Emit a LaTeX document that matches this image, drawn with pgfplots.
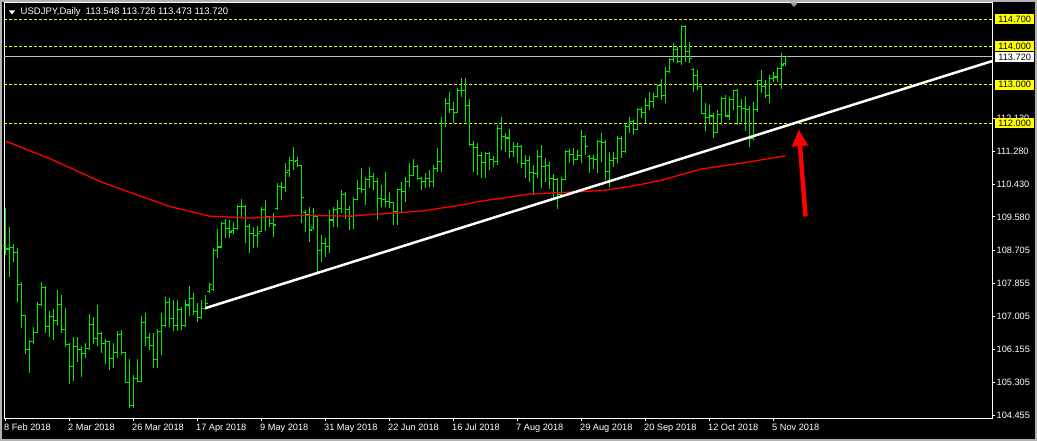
\documentclass[border=0pt]{standalone}
\usepackage{pgfplots}
\pgfplotsset{compat=1.18}
\usepackage{pgfplotstable}
\usepackage{fontspec}
\setmainfont{Liberation Sans}
\usetikzlibrary{arrows.meta}
\definecolor{barg}{RGB}{0,235,0}
\definecolor{mtyel}{RGB}{255,255,0}
\definecolor{bidgrey}{RGB}{192,192,192}
\pgfdeclareplotmark{rtick}{\pgfpathmoveto{\pgfpoint{0pt}{0pt}}\pgfpathlineto{\pgfpoint{2.5pt}{0pt}}\pgfusepathqstroke}
\pgfdeclareplotmark{ltick}{\pgfpathmoveto{\pgfpoint{-2.5pt}{0pt}}\pgfpathlineto{\pgfpoint{0pt}{0pt}}\pgfusepathqstroke}
\pgfdeclareplotmark{hl}{\pgfpathmoveto{\pgfpoint{0pt}{0pt}}\pgfpathlineto{\pgfpoint{0pt}{\rng pt}}\pgfusepathqstroke}
\pgfplotstableread{
k o h l c
0 108.85 109.81 108.59 108.75
1 108.75 109.33 108.03 108.79
2 108.79 108.88 108.42 108.65
3 108.65 108.77 107.39 107.82
4 107.82 107.90 106.71 107.02
5 107.02 107.04 106.03 106.14
6 106.14 106.40 105.55 106.35
7 106.35 106.74 106.29 106.58
8 106.58 107.37 106.57 107.32
9 107.32 107.90 107.28 107.76
10 107.76 107.78 106.58 106.74
11 106.74 107.15 106.48 107.00
12 107.00 107.20 106.40 106.91
13 106.91 107.69 106.76 107.32
14 107.32 107.56 106.57 106.67
15 106.67 107.23 106.22 106.27
16 106.27 106.31 105.25 105.72
17 105.72 106.48 105.33 106.22
18 106.22 106.47 105.83 106.14
19 106.14 106.24 105.45 106.05
20 106.05 106.31 105.92 106.18
21 106.18 107.07 106.14 106.80
22 106.80 106.98 106.29 106.44
23 106.44 107.30 106.24 106.57
24 106.57 106.59 106.05 106.31
25 106.31 106.41 105.77 106.35
26 106.35 106.36 105.62 105.92
27 105.92 106.31 105.68 106.08
28 106.08 106.64 105.94 106.54
29 106.54 106.65 106.01 106.07
30 106.07 106.09 105.27 105.29
31 105.29 105.90 104.63 104.71
32 104.71 105.49 104.63 105.40
33 105.40 105.90 105.32 105.33
34 105.33 107.02 105.32 106.84
35 106.84 107.09 106.25 106.46
36 106.46 106.57 106.14 106.25
37 106.25 106.58 105.66 105.88
38 105.88 106.67 105.66 106.61
39 106.61 107.10 106.01 106.78
40 106.78 107.52 106.74 107.37
41 107.37 107.47 106.74 106.96
42 106.96 107.43 106.64 106.76
43 106.76 107.43 106.63 107.19
44 107.19 107.26 106.65 106.78
45 106.78 107.43 106.74 107.30
46 107.30 107.79 107.02 107.47
47 107.47 107.60 107.05 107.13
48 107.13 107.35 106.87 106.98
49 106.98 107.43 106.93 107.22
50 107.22 107.56 107.17 107.35
51 107.65 107.87 107.60 107.82
52 107.69 108.77 107.66 108.71
53 108.72 109.27 108.52 108.80
54 108.80 109.46 108.78 109.41
55 109.41 109.53 109.03 109.29
56 109.29 109.50 109.03 109.19
57 109.22 109.45 109.15 109.27
58 109.27 109.89 109.24 109.86
59 109.86 110.04 109.55 109.84
60 109.84 109.89 108.90 109.32
61 109.32 109.40 108.65 109.14
62 109.14 109.32 108.78 109.09
63 109.09 109.34 108.80 109.14
64 109.20 109.83 109.19 109.78
65 109.78 110.02 109.22 109.58
66 109.58 109.60 109.33 109.42
67 109.42 109.67 109.07 109.37
68 109.80 110.45 109.76 110.36
69 110.36 110.49 110.02 110.35
70 110.35 110.97 110.23 110.73
71 110.79 111.14 110.62 111.05
72 111.05 111.40 110.79 111.02
73 111.03 111.14 110.88 110.90
74 110.90 110.92 109.41 110.09
75 109.70 109.76 109.20 109.63
76 109.63 109.84 108.94 109.24
77 109.30 109.80 109.24 109.59
78 109.59 109.63 108.12 108.72
79 108.72 109.11 108.42 108.90
80 108.90 109.03 108.55 108.81
81 108.81 109.76 108.64 109.50
82 109.50 109.84 109.33 109.76
83 109.76 110.02 109.33 109.80
84 109.80 110.28 109.67 110.15
85 110.15 110.23 109.52 109.76
86 109.76 109.86 109.24 109.60
87 109.60 110.10 109.26 110.04
88 110.04 110.54 110.02 110.32
89 110.32 110.84 110.19 110.30
90 110.30 110.62 109.89 110.54
91 110.54 110.88 110.32 110.62
92 110.62 110.72 110.28 110.49
93 110.49 110.58 109.50 110.06
94 110.06 110.41 109.83 110.04
95 110.04 110.75 109.84 109.97
96 109.97 110.23 109.80 109.95
97 109.95 109.97 109.37 109.71
98 109.71 110.30 109.37 110.28
99 110.28 110.49 109.67 110.23
100 110.23 110.62 109.97 110.49
101 110.49 110.97 110.36 110.66
102 110.66 111.07 110.64 110.88
103 110.88 110.92 110.53 110.58
104 110.58 110.62 110.28 110.49
105 110.49 110.71 110.32 110.58
106 110.58 110.79 110.36 110.49
107 110.49 110.92 110.36 110.84
108 110.84 111.35 110.75 111.01
109 111.01 112.17 110.75 112.00
110 112.00 112.65 111.91 112.52
111 112.52 112.82 112.26 112.36
112 112.36 112.56 112.00 112.27
113 112.27 112.91 112.26 112.86
114 112.86 113.17 112.69 112.85
115 112.85 113.17 112.04 112.47
116 112.47 112.62 111.41 111.45
117 111.45 111.54 110.75 111.38
118 111.38 111.50 110.66 111.18
119 111.18 111.27 110.58 110.98
120 110.98 111.27 110.58 111.22
121 111.22 111.27 110.79 111.07
122 111.07 111.16 110.88 111.01
123 111.01 111.96 110.92 111.87
124 111.87 112.17 111.31 111.66
125 111.66 111.74 111.27 111.62
126 111.62 111.85 111.10 111.27
127 111.27 111.53 111.12 111.41
128 111.41 111.48 110.98 111.40
129 111.40 111.44 110.84 110.97
130 110.97 111.18 110.58 111.05
131 111.05 111.16 110.49 110.72
132 110.72 110.92 110.15 110.71
133 110.71 111.31 110.58 111.14
134 111.14 111.44 110.32 110.88
135 110.88 111.10 110.49 110.90
136 110.90 111.01 110.29 110.58
137 110.58 110.69 110.02 110.54
138 110.54 110.58 109.78 110.15
139 110.15 110.60 110.12 110.55
140 110.55 111.31 110.54 111.27
141 111.27 111.33 110.97 111.20
142 111.20 111.35 110.92 111.07
143 111.07 111.31 111.05 111.18
144 111.18 111.83 110.97 111.67
145 111.67 111.70 111.18 111.41
146 111.15 111.18 110.71 111.10
147 111.10 111.18 110.81 111.07
148 111.07 111.57 110.71 111.52
149 111.52 111.76 111.01 111.50
150 111.50 111.57 110.54 110.75
151 110.75 111.27 110.36 111.05
152 111.05 111.27 110.88 111.10
153 111.10 111.66 110.97 111.61
154 111.61 111.66 111.10 111.27
155 111.27 112.00 111.24 111.91
156 111.91 112.17 111.74 112.04
157 112.04 112.09 111.70 111.85
158 111.85 112.39 111.83 112.35
159 112.35 112.43 112.13 112.28
160 112.28 112.66 112.01 112.47
161 112.47 112.81 112.35 112.56
162 112.56 112.78 112.40 112.69
163 112.69 112.99 112.65 112.97
164 112.97 113.14 112.60 112.71
165 112.71 113.47 112.53 113.34
166 113.34 113.68 113.31 113.66
167 113.66 114.07 113.60 113.92
168 113.92 113.98 113.55 113.60
169 113.60 114.54 113.51 114.50
170 114.50 114.54 113.60 113.85
171 113.85 114.11 113.55 113.68
172 113.40 113.43 112.82 113.23
173 113.23 113.38 112.86 112.95
174 112.95 112.97 112.24 112.26
175 112.26 112.52 111.81 112.16
176 112.16 112.47 112.00 112.19
177 112.19 112.26 111.61 111.76
178 111.76 112.35 111.74 112.24
179 112.24 112.67 111.96 112.64
180 112.64 112.73 112.17 112.19
181 112.19 112.69 112.09 112.62
182 112.62 112.86 112.35 112.85
183 112.85 112.88 111.96 112.43
184 112.43 112.62 112.04 112.39
185 112.39 112.69 111.81 112.35
186 112.35 112.45 111.39 111.61
187 111.61 112.56 111.58 112.35
188 112.35 113.12 112.30 113.10
189 113.10 113.38 112.79 112.95
190 112.95 113.12 112.65 112.71
191 112.71 113.25 112.53 113.17
192 113.17 113.34 113.08 113.20
193 113.20 113.47 113.06 113.42
194 113.42 113.82 112.90 113.51
195 113.548 113.726 113.473 113.720
}\ohlc
\pgfplotstableread{
k ma
0 111.54
11 111.09
24 110.48
31 110.22
41 109.85
51 109.60
61 109.55
74 109.62
86 109.60
94 109.66
104 109.73
114 109.89
119 109.99
131 110.17
141 110.22
149 110.26
156 110.36
164 110.53
174 110.82
184 110.97
195 111.16
}\matab
\begin{document}
\fontsize{9.2}{11}\selectfont
\begin{tikzpicture}
\useasboundingbox (-4pt,-23pt) rectangle (1033pt,418pt);
\fill[black] (-4pt,-23pt) rectangle (1033pt,418pt);
\draw[gray!60, line width=2pt] (-3pt,-22pt) rectangle (1032pt,417pt);
\begin{axis}[
  scale only axis, width=988pt, height=416pt,
  xmin=-0.375, xmax=246.625, ymin=104.377, ymax=115.140,
  clip mode=individual,
  axis line style={white, line width=0.8pt},
  xtick={0,16,...,192},
  xticklabels={8 Feb 2018,2 Mar 2018,26 Mar 2018,17 Apr 2018,9 May 2018,31 May 2018,22 Jun 2018,16 Jul 2018,7 Aug 2018,29 Aug 2018,20 Sep 2018,12 Oct 2018,5 Nov 2018},
  ytick={104.455,105.305,106.155,107.005,107.855,108.705,109.58,110.43,111.28,112.13},
  xtick pos=bottom, ytick pos=right, yticklabel pos=right,
  tick align=outside, major tick length=3pt,
  tick style={white, line width=0.8pt},
  ticklabel style={text=white, font=\fontsize{9.2}{11}\selectfont},
  /pgf/number format/assume math mode=true,
  yticklabel style={/pgf/number format/fixed, /pgf/number format/fixed zerofill, /pgf/number format/precision=3},
  xticklabel style={anchor=north west, inner sep=0pt, xshift=-1.5pt, yshift=-3pt},
  yticklabel style={anchor=west, inner sep=0pt, xshift=1.5pt},
]
\addplot[mtyel, dash pattern=on 3pt off 2pt, line width=0.8pt, forget plot] coordinates {(-0.375,114.7) (246.625,114.7)};
\addplot[mtyel, dash pattern=on 3pt off 2pt, line width=0.8pt, forget plot] coordinates {(-0.375,114.0) (246.625,114.0)};
\addplot[mtyel, dash pattern=on 3pt off 2pt, line width=0.8pt, forget plot] coordinates {(-0.375,113.0) (246.625,113.0)};
\addplot[mtyel, dash pattern=on 3pt off 2pt, line width=0.8pt, forget plot] coordinates {(-0.375,112.0) (246.625,112.0)};
\addplot[bidgrey, line width=0.8pt, forget plot] coordinates {(-0.375,113.72) (246.625,113.72)};
\addplot[draw=barg, only marks, mark=hl, mark options={line width=1.1pt, draw=barg},
  visualization depends on={(\thisrow{h}-\thisrow{l})*38.651 \as \rng}] table[x=k, y=l] {\ohlc};
\addplot[draw=barg, only marks, mark=rtick, mark options={line width=1.1pt, draw=barg}] table[x=k, y=c] {\ohlc};
\addplot[draw=barg, only marks, mark=ltick, mark options={line width=1.1pt, draw=barg}] table[x=k, y=o] {\ohlc};
\addplot[red, line width=1.3pt] table[x=k, y=ma] {\matab};
\addplot[white, line width=2.5pt] coordinates {(50,107.22) (246.625,113.61)};
\addplot[red, line width=4.5pt, -{Triangle[width=15pt,length=17pt]}] coordinates {(200,109.59) (198.3,111.85)};
\node[fill=mtyel, text=black, anchor=west, inner sep=0pt, minimum width=39pt, minimum height=10pt, xshift=3pt, font=\fontsize{9.2}{11}\selectfont] at (axis cs:246.625,114.7) {114.700};
\node[fill=mtyel, text=black, anchor=west, inner sep=0pt, minimum width=39pt, minimum height=10pt, xshift=3pt, font=\fontsize{9.2}{11}\selectfont] at (axis cs:246.625,114.0) {114.000};
\node[fill=white, text=black, anchor=west, inner sep=0pt, minimum width=39pt, minimum height=10pt, xshift=3pt, font=\fontsize{9.2}{11}\selectfont] at (axis cs:246.625,113.72) {113.720};
\node[fill=mtyel, text=black, anchor=west, inner sep=0pt, minimum width=39pt, minimum height=10pt, xshift=3pt, font=\fontsize{9.2}{11}\selectfont] at (axis cs:246.625,113.0) {113.000};
\node[fill=mtyel, text=black, anchor=west, inner sep=0pt, minimum width=39pt, minimum height=10pt, xshift=3pt, font=\fontsize{9.2}{11}\selectfont] at (axis cs:246.625,112.0) {112.000};
\end{axis}
\fill[white] (5pt,407.5pt) -- (11pt,407.5pt) -- (8pt,403.5pt) -- cycle;
\node[anchor=west, text=white, inner sep=0pt, font=\fontsize{9.5}{11}\selectfont] at (16.5pt,405.5pt) {USDJPY,Daily\hspace{5pt}113.548 113.726 113.473 113.720};
\fill[gray!80] (786pt,415.5pt) -- (794pt,415.5pt) -- (790pt,411pt) -- cycle;
\end{tikzpicture}
\end{document}
